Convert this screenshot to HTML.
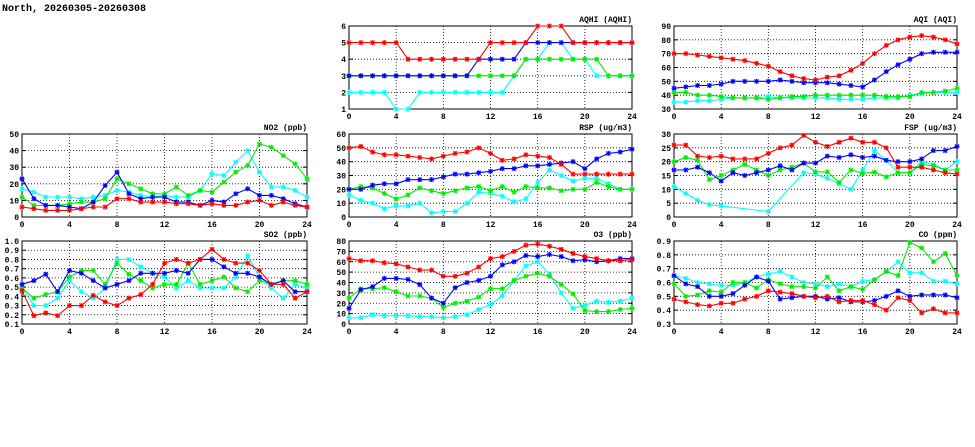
<!DOCTYPE html>
<html><head><meta charset="utf-8"><style>
body{margin:0;background:#fff;}
svg{display:block;}
text{font-family:"Liberation Mono",monospace;font-weight:bold;fill:#000;}
</style></head><body>
<svg id="c" width="975" height="447" viewBox="0 0 975 447" xmlns="http://www.w3.org/2000/svg">
<text x="2" y="11" font-size="10">North, 20260305-20260308</text>
</svg>
<script>
const hours = [0,1,2,3,4,5,6,7,8,9,10,11,12,13,14,15,16,17,18,19,20,21,22,23,24];
const xTicks = [0,4,8,12,16,20,24];
const seriesColors = ['#00ffff','#00ee00','#0000ff','#ff0000'];
const seriesNames = ['cyan','green','blue','red'];

const aqhiCyan = [2,2,2,2,1,1,2,2,2,2,2,2,2,2,3,4,4,5,5,4,4,3,3,3,3];
const aqhiGreen = [3,3,3,3,3,3,3,3,3,3,3,3,3,3,3,4,4,4,4,4,4,4,3,3,3];
const aqhiBlue = [3,3,3,3,3,3,3,3,3,3,3,4,4,4,4,5,5,5,5,5,5,5,5,5,5];
const aqhiRed = [5,5,5,5,5,4,4,4,4,4,4,4,5,5,5,5,6,6,6,5,5,5,5,5,5];
const aqhiTicks = [1,2,3,4,5,6];

const aqiCyan = [35,35,36,36,37,38,38,38,39,38,38,38,38,38,37,37,37,38,38,38,40,41,42,42,42];
const aqiGreen = [42,42,40,40,39,38,38,38,37,38,39,39,40,40,40,40,40,40,39,39,39,42,42,43,45];
const aqiBlue = [45,46,47,47,48,50,50,50,50,51,50,49,49,49,48,47,46,51,57,62,66,70,71,71,71];
const aqiRed = [70,70,69,68,67,66,65,63,61,57,54,52,51,53,54,58,63,70,76,80,82,83,82,80,77];
const aqiTicks = [30,40,50,60,70,80,90];

const no2Cyan = [17,15,12,12,12,11,12,13,16,15,13,12,13,12,12,16,26,25,33,40,27,18,18,16,12];
const no2Green = [12,7,7,7,8,9,9,11,23,20,17,14,14,18,13,16,15,21,27,31,44,42,37,32,23];
const no2Blue = [23,11,7,7,6,5,9,19,27,14,11,12,12,9,9,7,10,9,14,17,13,13,11,8,6];
const no2Red = [6,5,4,4,4,5,6,6,11,11,9,9,9,8,8,7,8,7,7,9,10,7,9,7,6];
const no2Ticks = [0,10,20,30,40,50];

const rspCyan = [16,12,10,6,8,8,10,3,4,4,10,18,17,15,11,13,25,34,30,26,28,28,24,20,20];
const rspGreen = [20,22,21,17,13,16,21,19,17,19,21,22,19,22,18,22,21,21,19,20,20,25,22,20,20];
const rspBlue = [20,20,23,24,24,27,27,27,29,31,31,32,33,35,35,37,37,38,39,40,35,42,46,47,49];
const rspRed = [50,51,47,45,45,44,43,42,44,46,47,50,46,41,42,45,44,43,38,31,31,31,31,31,31];
const rspTicks = [0,10,20,30,40,50,60];

const fspCyan = [11,8.5,6,4.5,4,null,null,null,2,null,null,16,15.5,14,12,10,17,24,20.5,16,16,20,19,17,20];
const fspGreen = [20,21.5,20.5,13.5,15,17,19,17,15,17,18,19.5,16.3,16.3,12.5,17,15.8,16.2,14.5,16,16,19,18.5,17,17];
const fspBlue = [17,17,18,16,13,16,15,16,17,18.5,17,19.5,19.5,22,21.5,22.5,21.5,22,20.5,20,20,21,24,24,25.5];
const fspRed = [26,26,22,21.5,22,21,21,21,23,25,26,29.5,27,25.5,27,28.5,27,27,25,18,18,18,17,16,15.5];
const fspTicks = [0,5,10,15,20,25,30];

const so2Cyan = [.49,.30,.30,.38,.57,.45,.38,.49,.80,.80,.72,.65,.61,.49,.57,.49,.49,.49,.61,.84,.61,.49,.38,.53,.49];
const so2Green = [.49,.38,.42,.45,.61,.68,.68,.53,.76,.64,.57,.49,.53,.53,.76,.53,.57,.61,.49,.45,.57,.53,.57,.57,.53];
const so2Blue = [.53,.57,.64,.45,.68,.65,.57,.49,.53,.57,.65,.65,.65,.68,.65,.80,.80,.72,.65,.65,.61,.53,.57,.45,.45];
const so2Red = [.46,.19,.22,.19,.30,.30,.41,.34,.30,.38,.42,.53,.76,.80,.76,.80,.91,.80,.76,.76,.68,.53,.53,.38,.45];
const so2Ticks = [0.1,0.2,0.3,0.4,0.5,0.6,0.7,0.8,0.9,1.0];

const o3Cyan = [6,6,9,8,8,8,7,7,6,7,9,14,19,27,42,56,60,48,30,15,18,22,21,22,25];
const o3Green = [25,34,34,35,31,27,27,25,16,20,22,26,34,34,42,46,49,46,38,29,13,12,12,14,15];
const o3Blue = [15,33,36,44,44,43,38,25,20,35,40,42,46,57,60,66,65,67,65,61,62,60,61,63,63];
const o3Red = [63,61,61,59,58,55,52,52,46,46,49,55,63,65,70,76,77,75,72,68,65,63,61,61,62];
const o3Ticks = [0,10,20,30,40,50,60,70,80];

const coCyan = [.65,.63,.60,.59,.58,.58,.60,.64,.66,.68,.64,.60,.59,.57,.59,.57,.61,.62,.68,.75,.67,.67,.61,.61,.59];
const coGreen = [.59,.50,.51,.54,.53,.60,.60,.56,.62,.59,.57,.57,.56,.64,.54,.57,.55,.62,.68,.65,.89,.85,.75,.81,.65];
const coBlue = [.65,.59,.57,.50,.50,.52,.58,.64,.61,.48,.49,.50,.50,.48,.49,.46,.46,.47,.50,.54,.50,.51,.51,.51,.49];
const coRed = [.48,.46,.44,.43,.45,.45,.48,.50,.54,.53,.52,.50,.49,.50,.46,.47,.47,.44,.40,.49,.47,.38,.41,.38,.38];
const coTicks = [0.3,0.4,0.5,0.6,0.7,0.8,0.9];

const panels = [
 {id:'aqhi',title:'AQHI (AQHI)',box:[349,26,632,109],ticks:aqhiTicks,dec:0,series:[aqhiCyan,aqhiGreen,aqhiBlue,aqhiRed]},
 {id:'aqi',title:'AQI (AQI)',box:[674,26,957,109],ticks:aqiTicks,dec:0,series:[aqiCyan,aqiGreen,aqiBlue,aqiRed]},
 {id:'no2',title:'NO2 (ppb)',box:[22,134,307,217],ticks:no2Ticks,dec:0,series:[no2Cyan,no2Green,no2Blue,no2Red]},
 {id:'rsp',title:'RSP (ug/m3)',box:[349,134,632,217],ticks:rspTicks,dec:0,series:[rspCyan,rspGreen,rspBlue,rspRed]},
 {id:'fsp',title:'FSP (ug/m3)',box:[674,134,957,217],ticks:fspTicks,dec:0,series:[fspCyan,fspGreen,fspBlue,fspRed]},
 {id:'so2',title:'SO2 (ppb)',box:[22,241,307,324],ticks:so2Ticks,dec:1,series:[so2Cyan,so2Green,so2Blue,so2Red]},
 {id:'o3',title:'O3 (ppb)',box:[349,241,632,324],ticks:o3Ticks,dec:0,series:[o3Cyan,o3Green,o3Blue,o3Red]},
 {id:'co',title:'CO (ppm)',box:[674,241,957,324],ticks:coTicks,dec:1,series:[coCyan,coGreen,coBlue,coRed]}
];

const NS='http://www.w3.org/2000/svg';
const svg=document.getElementById('c');
function mk(tag,attrs,parent){const e=document.createElementNS(NS,tag);for(const k in attrs)e.setAttribute(k,attrs[k]);(parent||svg).appendChild(e);return e;}

panels.forEach(p=>{
  const [x0,y0,x1,y1]=p.box;
  const g=mk('g',{});
  
  
  const ymin=p.ticks[0], ymax=p.ticks[p.ticks.length-1];
  const sx=v=>x0+(v-0)/(24-0)*(x1-x0);
  const sy=v=>y1-(v-ymin)/(ymax-ymin)*(y1-y0);
  // grid
  p.ticks.forEach(t=>{
    const y=sy(t);
    if(t!==ymin && t!==ymax){
      const l=mk('line',{x1:x0,x2:x1,y1:y,y2:y,stroke:'#000','stroke-width':0.8,'stroke-dasharray':'1,2'},g);
      
      
    }
    mk('line',{x1:x0,x2:x0+4,y1:y,y2:y,stroke:'#000','stroke-width':1},g);
    mk('line',{x1:x1-4,x2:x1,y1:y,y2:y,stroke:'#000','stroke-width':1},g);
    const tx=mk('text',{x:x0-3,y:y+3,'font-size':8,'text-anchor':'end'},g);
    tx.textContent=t.toFixed(p.dec);
    
    
  });
  xTicks.forEach(t=>{
    const x=sx(t);
    if(t!==0 && t!==24){
      const l=mk('line',{x1:x,x2:x,y1:y0,y2:y1,stroke:'#000','stroke-width':0.8,'stroke-dasharray':'1,2'},g);
      
      
    }
    const tx=mk('text',{x:x,y:y1+10,'font-size':8,'text-anchor':'middle'},g);
    tx.textContent=String(t);
    
    
  });
  const r=mk('rect',{x:x0,y:y0,width:x1-x0,height:y1-y0,fill:'none',stroke:'#000','stroke-width':1},g);
  
  
  const tt=mk('text',{x:x1,y:y0-4,'font-size':8,'text-anchor':'end'},g);
  tt.textContent=p.title;
  
  
  // series
  p.series.forEach((vals,si)=>{
    const col=seriesColors[si];
    const pts=[];
    vals.forEach((v,i)=>{ if(v!==null) pts.push([sx(hours[i]),sy(v)]); });
    const pl=mk('polyline',{points:pts.map(q=>q[0].toFixed(1)+','+q[1].toFixed(1)).join(' '),fill:'none',stroke:col,'stroke-width':1.1},g);
    
    
    pts.forEach(q=>{
      const m=mk('path',{d:`M${q[0]-2.5},${q[1]}h5M${q[0]},${q[1]-2.5}v5M${q[0]-2},${q[1]-2}l4,4M${q[0]-2},${q[1]+2}l4,-4`,stroke:col,'stroke-width':1.1,fill:'none'},g);
      
      
    });
  });
});
</script>
</body></html>
